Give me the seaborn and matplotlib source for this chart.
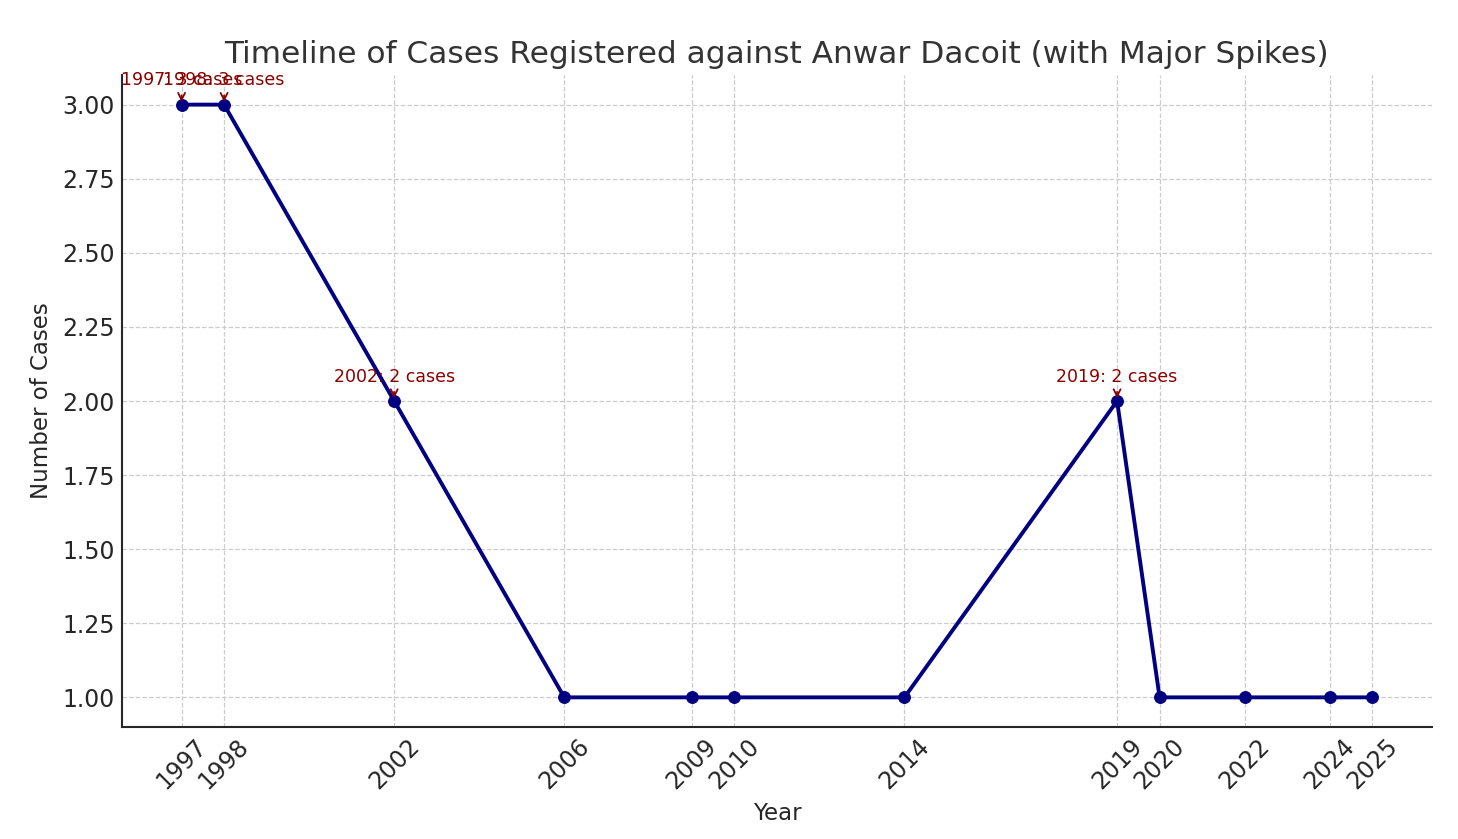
import matplotlib
matplotlib.use("Agg")
import matplotlib.pyplot as plt
import seaborn as sns
import pandas as pd

# data
years = [1997, 1998, 2002, 2006, 2009, 2010, 2014, 2019, 2020, 2022, 2024, 2025]
cases = [3, 3, 2, 1, 1, 1, 1, 2, 1, 1, 1, 1]
spike_threshold = 2

df = pd.DataFrame({"Year": years, "Cases": cases})

sns.set_style("white")
plt.rcParams['font.family'] = ['DejaVu Sans']

fig = plt.figure(figsize=(14.58, 8.39), dpi=100)
ax = fig.add_axes([0.0837, 0.1335, 0.8983, 0.7771])

sns.lineplot(data=df, x="Year", y="Cases", ax=ax, color="navy",
             linewidth=2.8, marker="o", markersize=8.5,
             markeredgecolor="navy", markerfacecolor="navy")

# annotate the spikes
for y, c in zip(years, cases):
    if c >= spike_threshold:
        ax.annotate(f"{y}: {c} cases", xy=(y, c), xytext=(0, 11),
                    textcoords="offset points", ha="center", va="bottom",
                    fontsize=12.5, color="darkred",
                    arrowprops=dict(arrowstyle="->", color="darkred", lw=1.3))

ax.set_title("Timeline of Cases Registered against Anwar Dacoit (with Major Spikes)",
             fontsize=22.5, color="#333333", pad=9)
ax.set_xlabel("Year", fontsize=16.5, color="#262626", labelpad=6)
ax.set_ylabel("Number of Cases", fontsize=16.5, color="#262626", labelpad=7)
ax.set_xticks(years)
ax.set_xticklabels([str(y) for y in years], rotation=45, fontsize=17)
ax.tick_params(axis="y", labelsize=17)
ax.tick_params(direction="in", length=5, width=1.2, colors="#262626", pad=5)
ax.yaxis.set_major_formatter(matplotlib.ticker.FormatStrFormatter("%.2f"))
ax.set_yticks([1.0, 1.25, 1.5, 1.75, 2.0, 2.25, 2.5, 2.75, 3.0])
ax.grid(True, linestyle="--", color="#cccccc", linewidth=0.9)

sns.despine(ax=ax)
for s in ["left", "bottom"]:
    ax.spines[s].set_color("#262626")
    ax.spines[s].set_linewidth(1.5)

fig.savefig("out.png", dpi=100)
